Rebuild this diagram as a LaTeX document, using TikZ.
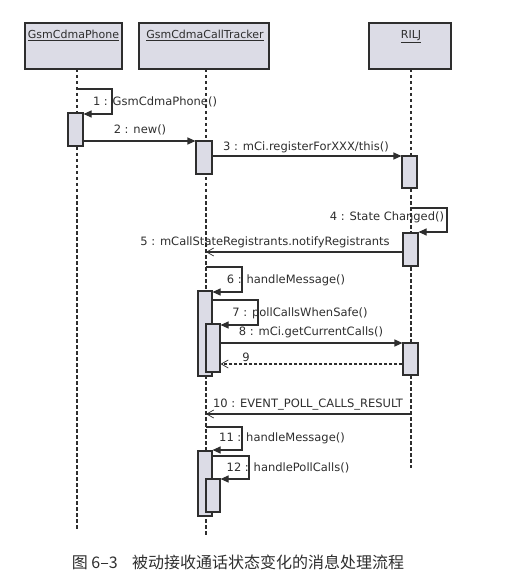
\documentclass[tikz,border=0pt]{standalone}
\usepackage{fontspec}
\setmainfont{DejaVu Sans}
\newfontfamily\cjk{Noto Sans CJK SC}
\usetikzlibrary{arrows.meta}
\definecolor{ln}{HTML}{2E2E2E}
\definecolor{boxfill}{HTML}{DCDCE6}
\tikzset{
  hdr/.style={draw=ln, fill=boxfill, line width=1.1pt, inner sep=0pt},
  act/.style={draw=ln, fill=boxfill, line width=1.1pt, inner sep=0pt},
  life/.style={draw=ln, line width=1.2pt, dash pattern=on 3.5pt off 2.5pt},
  msg/.style={draw=ln, line width=1.1pt, -{Triangle[length=8pt,width=7pt]}},
  amsg/.style={draw=ln, line width=1.1pt, -{Straight Barb[length=7pt,width=8pt,line width=0.7pt]}},
  rmsg/.style={amsg, dash pattern=on 3pt off 2pt},
  lbl/.style={font=\fontsize{11.5}{13}\selectfont, text=ln, inner sep=0pt},
  ttl/.style={font=\fontsize{11}{13}\selectfont, text=ln, inner sep=0pt, anchor=north}
}
\begin{document}
\begin{tikzpicture}[x=1pt,y=-1pt]
\useasboundingbox (0,0) rectangle (510,577);
% headers
\node[hdr, minimum width=97pt, minimum height=46pt] (ph) at (73.5,46) {};
\node[hdr, minimum width=130pt, minimum height=46pt] (tr) at (204,46) {};
\node[hdr, minimum width=82pt, minimum height=46pt] (ri) at (410,46) {};
\node[ttl] (pht) at (73.5,30) {\underline{GsmCdmaPhone}};
\node[ttl] (trt) at (205,30) {\underline{GsmCdmaCallTracker}};
\node[ttl] (rit) at (411,30) {\underline{RILJ}};
% lifeline ends
\coordinate (phE) at (77,530);
\coordinate (trE) at (206,535);
\coordinate (riE) at (411,468);
\coordinate (phS) at (77,69);
\coordinate (trS) at (206,69);
\coordinate (riS) at (411,69);
\draw[life] (phS) -- (phE);
\draw[life] (trS) -- (trE);
\draw[life] (riS) -- (riE);
% activations
\node[act, minimum width=15pt, minimum height=33pt] (pa) at (75.5,129.5) {};
\node[act, minimum width=16pt, minimum height=33pt] (ta1) at (204,157.5) {};
\node[act, minimum width=15pt, minimum height=32pt] (ra1) at (409.5,172) {};
\node[act, minimum width=15pt, minimum height=33pt] (ra2) at (410.5,249.5) {};
\node[act, minimum width=14pt, minimum height=85pt] (taA) at (205,333.5) {};
\node[act, minimum width=14pt, minimum height=48pt] (taB) at (213,348) {};
\node[act, minimum width=15pt, minimum height=32pt] (ra3) at (410.5,359) {};
\node[act, minimum width=14pt, minimum height=65pt] (taC) at (205,483.5) {};
\node[act, minimum width=14pt, minimum height=33pt] (taD) at (213,495.5) {};
% 1 self call
\coordinate (m1a) at (77,89);
\coordinate (m1b) at (112,89);
\coordinate (m1c) at (112,114);
\draw[msg] (m1a) -- (m1b) -- (m1c) -- (m1c -| pa.east);
\node[lbl] (l1) at (155,102) {1 : GsmCdmaPhone()};
% 2
\draw[msg] (pa.east |- 0,141) -- (ta1.west |- 0,141);
\node[lbl] (l2) at (140,130) {2 : new()};
% 3
\draw[msg] (ta1.east |- 0,156) -- (ra1.west |- 0,156);
\node[lbl] (l3) at (306,147) {3 : mCi.registerForXXX/this()};
% 4
\coordinate (m4a) at (411,208);
\coordinate (m4b) at (447,208);
\coordinate (m4c) at (447,232);
\draw[msg] (m4a) -- (m4b) -- (m4c) -- (m4c -| ra2.east);
\node[lbl] (l4) at (387,217) {4 : State Changed()};
% 5
\coordinate (m5e) at (206,252);
\draw[amsg] (ra2.west |- m5e) -- (m5e);
\node[lbl] (l5) at (265,242) {5 : mCallStateRegistrants.notifyRegistrants};
% 6
\coordinate (m6a) at (206,267);
\coordinate (m6b) at (242,267);
\coordinate (m6c) at (242,292);
\draw[msg] (m6a) -- (m6b) -- (m6c) -- (m6c -| taA.east);
\node[lbl] (l6) at (286,280) {6 : handleMessage()};
% 7
\coordinate (m7a) at (212,300);
\coordinate (m7b) at (258,300);
\coordinate (m7c) at (258,325);
\draw[msg] (m7a) -- (m7b) -- (m7c) -- (m7c -| taB.east);
\node[lbl] (l7) at (300,313) {7 : pollCallsWhenSafe()};
% 8
\draw[msg] (taB.east |- 0,343) -- (ra3.west |- 0,343);
\node[lbl] (l8) at (311,332) {8 : mCi.getCurrentCalls()};
% 9
\draw[rmsg] (ra3.west |- 0,364) -- (taB.east |- 0,364);
\node[lbl] (l9) at (246,357) {9};
% 10
\coordinate (m10a) at (411,414);
\coordinate (m10b) at (206,414);
\draw[amsg] (m10a) -- (m10b);
\node[lbl] (l10) at (308,405) {10 : EVENT\_POLL\_CALLS\_RESULT};
% 11
\coordinate (m11a) at (206,427);
\coordinate (m11b) at (242,427);
\coordinate (m11c) at (242,450);
\draw[msg] (m11a) -- (m11b) -- (m11c) -- (m11c -| taC.east);
\node[lbl] (l11) at (282,438) {11 : handleMessage()};
% 12
\coordinate (m12a) at (212,456);
\coordinate (m12b) at (249,456);
\coordinate (m12c) at (249,479);
\draw[msg] (m12a) -- (m12b) -- (m12c) -- (m12c -| taD.east);
\node[lbl] (l12) at (288,468) {12 : handlePollCalls()};
% caption
\node[inner sep=0pt, text=ln, font=\cjk\fontsize{16}{18}\selectfont] (cap) at (238,562) {图 6–3\hspace{0.9em}被动接收通话状态变化的消息处理流程};
\end{tikzpicture}
\end{document}
